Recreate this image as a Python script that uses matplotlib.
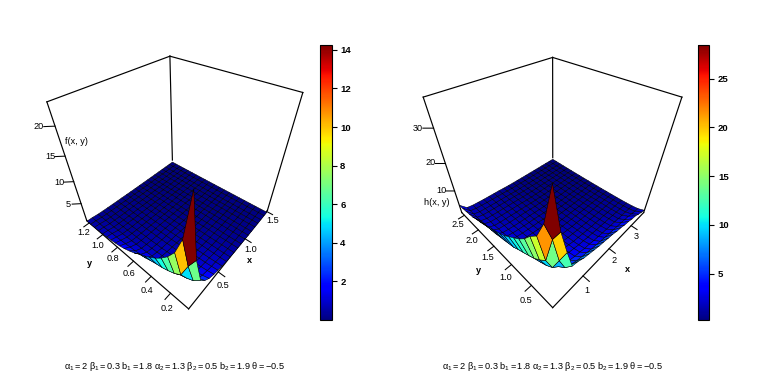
"""Two perspective surface plots with colour bars, drawn on mplot3d axes."""

import matplotlib

matplotlib.use("Agg")
matplotlib.rcParams["font.family"] = ["Liberation Sans", "DejaVu Sans"]
matplotlib.rcParams["mathtext.fontset"] = "custom"
matplotlib.rcParams["mathtext.rm"] = "Liberation Sans"
matplotlib.rcParams["mathtext.it"] = "Liberation Sans"

import matplotlib.pyplot as plt  # noqa: E402
import numpy as np  # noqa: E402
from matplotlib.cm import ScalarMappable  # noqa: E402
from matplotlib.colors import Normalize  # noqa: E402

WIDTH, HEIGHT = 765, 377

x_left = [0.05, 0.12, 0.20, 0.27, 0.34, 0.42, 0.49, 0.56, 0.64, 0.71, 0.785,
          0.86, 0.93, 1.01, 1.08, 1.15, 1.23, 1.30, 1.37, 1.45, 1.52]
y_left = [0.03, 0.09, 0.15, 0.21, 0.27, 0.33, 0.39, 0.45, 0.51, 0.57, 0.635,
          0.70, 0.76, 0.82, 0.88, 0.94, 1.00, 1.06, 1.12, 1.18, 1.24]
x_right = [0.03, 0.21, 0.39, 0.57, 0.75, 0.94, 1.12, 1.30, 1.48, 1.66, 1.84,
           2.02, 2.20, 2.38, 2.56, 2.75, 2.93, 3.11, 3.29, 3.47, 3.65]
y_right = [0.03, 0.16, 0.29, 0.42, 0.54, 0.67, 0.80, 0.93, 1.06, 1.19, 1.32,
           1.44, 1.57, 1.70, 1.83, 1.96, 2.09, 2.22, 2.34, 2.47, 2.60]

# rows run along x, columns along y
z_left = [
    [23, 15, 11.5, 9.5, 8, 6.8, 5.8, 5, 4.3, 3.4, 2.7, 2.1, 1.7, 1.4, 1.15, 0.95, 0.75, 0.65, 0.6, 0.5, 0.45],
    [11, 8.5, 5.2, 4.2, 3.6, 3.1, 2.8, 2.4, 1.95, 1.7, 1.4, 1.25, 1.05, 0.95, 0.8, 0.75, 0.62, 0.56, 0.5, 0.45, 0.4],
    [4.8, 3.3, 2.6, 2.1, 1.8, 1.55, 1.35, 1.2, 0.95, 0.85, 0.7, 0.64, 0.55, 0.5, 0.43, 0.4, 0.35, 0.32, 0.3, 0.28, 0.26],
    [3.2, 2.3, 1.8, 1.5, 1.3, 1.15, 1.0, 0.9, 0.75, 0.68, 0.56, 0.5, 0.43, 0.39, 0.33, 0.31, 0.27, 0.25, 0.23, 0.21, 0.2],
    [2.2, 1.7, 1.35, 1.15, 1.0, 0.9, 0.82, 0.74, 0.6, 0.55, 0.46, 0.42, 0.36, 0.33, 0.28, 0.26, 0.22, 0.21, 0.19, 0.18, 0.17],
    [1.6, 1.3, 1.1, 0.95, 0.85, 0.77, 0.7, 0.63, 0.52, 0.47, 0.39, 0.36, 0.31, 0.28, 0.24, 0.22, 0.19, 0.17, 0.16, 0.15, 0.14],
    [1.25, 1.05, 0.92, 0.82, 0.74, 0.67, 0.61, 0.55, 0.46, 0.42, 0.35, 0.32, 0.27, 0.25, 0.21, 0.2, 0.17, 0.16, 0.15, 0.13, 0.12],
    [1.0, 0.9, 0.8, 0.72, 0.66, 0.6, 0.55, 0.5, 0.42, 0.38, 0.32, 0.29, 0.24, 0.22, 0.19, 0.18, 0.15, 0.14, 0.13, 0.12, 0.11],
    [0.72, 0.63, 0.58, 0.53, 0.49, 0.44, 0.4, 0.37, 0.31, 0.28, 0.23, 0.21, 0.18, 0.16, 0.14, 0.13, 0.11, 0.1, 0.09, 0.085, 0.08],
    [0.62, 0.54, 0.49, 0.45, 0.41, 0.38, 0.34, 0.31, 0.26, 0.24, 0.2, 0.18, 0.15, 0.14, 0.12, 0.11, 0.09, 0.085, 0.08, 0.07, 0.065],
    [0.47, 0.41, 0.37, 0.34, 0.31, 0.29, 0.26, 0.24, 0.2, 0.18, 0.15, 0.14, 0.12, 0.11, 0.09, 0.085, 0.07, 0.065, 0.06, 0.055, 0.05],
    [0.41, 0.36, 0.33, 0.3, 0.27, 0.25, 0.23, 0.21, 0.18, 0.16, 0.13, 0.12, 0.1, 0.095, 0.08, 0.075, 0.065, 0.06, 0.055, 0.05, 0.045],
    [0.32, 0.27, 0.25, 0.23, 0.21, 0.19, 0.18, 0.16, 0.13, 0.12, 0.1, 0.095, 0.08, 0.075, 0.06, 0.055, 0.05, 0.045, 0.04, 0.04, 0.035],
    [0.28, 0.24, 0.22, 0.2, 0.18, 0.17, 0.15, 0.14, 0.12, 0.11, 0.09, 0.085, 0.07, 0.065, 0.055, 0.05, 0.04, 0.04, 0.035, 0.035, 0.03],
    [0.22, 0.19, 0.17, 0.16, 0.14, 0.13, 0.12, 0.11, 0.09, 0.085, 0.07, 0.065, 0.055, 0.05, 0.04, 0.04, 0.035, 0.03, 0.03, 0.03, 0.025],
    [0.2, 0.17, 0.15, 0.14, 0.13, 0.12, 0.11, 0.1, 0.08, 0.075, 0.06, 0.055, 0.05, 0.045, 0.04, 0.035, 0.03, 0.03, 0.025, 0.025, 0.02],
    [0.16, 0.14, 0.12, 0.11, 0.1, 0.09, 0.085, 0.08, 0.065, 0.06, 0.05, 0.045, 0.04, 0.035, 0.03, 0.03, 0.025, 0.02, 0.02, 0.02, 0.02],
    [0.14, 0.12, 0.11, 0.1, 0.09, 0.085, 0.08, 0.07, 0.06, 0.05, 0.045, 0.04, 0.035, 0.03, 0.025, 0.025, 0.02, 0.02, 0.02, 0.02, 0.02],
    [0.13, 0.11, 0.1, 0.09, 0.08, 0.075, 0.07, 0.065, 0.05, 0.05, 0.04, 0.035, 0.03, 0.03, 0.025, 0.02, 0.02, 0.02, 0.02, 0.02, 0.02],
    [0.12, 0.1, 0.09, 0.08, 0.07, 0.065, 0.06, 0.055, 0.045, 0.04, 0.035, 0.03, 0.03, 0.025, 0.02, 0.02, 0.02, 0.02, 0.02, 0.02, 0.02],
    [0.11, 0.09, 0.08, 0.07, 0.065, 0.06, 0.055, 0.05, 0.04, 0.04, 0.03, 0.03, 0.025, 0.02, 0.02, 0.02, 0.02, 0.02, 0.02, 0.02, 0.02],
]

z_right = [
    [38, 28, 23, 21, 18.5, 16.5, 15, 13.5, 12, 11, 10, 9.5, 8.5, 7.8, 6.8, 6.2, 5.4, 5, 4.7, 4.4, 4.2],
    [26, 22, 13, 11, 9.5, 8.5, 7.5, 6.6, 5.5, 5, 4.4, 4, 3.4, 3.1, 2.7, 2.5, 2.1, 2, 1.9, 1.8, 1.7],
    [18, 13, 8, 6.5, 5.6, 5, 4.5, 4.1, 3.4, 3.1, 2.7, 2.5, 2.2, 2, 1.8, 1.7, 1.5, 1.45, 1.4, 1.35, 1.3],
    [11, 8, 6, 5, 4.4, 4, 3.6, 3.3, 2.8, 2.6, 2.2, 2.1, 1.85, 1.75, 1.55, 1.5, 1.35, 1.3, 1.25, 1.2, 1.15],
    [10.5, 6.8, 4.8, 4.1, 3.7, 3.3, 3, 2.8, 2.4, 2.2, 1.9, 1.8, 1.6, 1.5, 1.4, 1.3, 1.2, 1.15, 1.1, 1.05, 1],
    [9.5, 6, 4.1, 3.5, 3.1, 2.8, 2.6, 2.4, 2.05, 1.9, 1.7, 1.6, 1.4, 1.35, 1.25, 1.2, 1.1, 1.05, 1, 0.95, 0.92],
    [9, 5.5, 3.6, 3.1, 2.8, 2.5, 2.3, 2.1, 1.8, 1.7, 1.5, 1.4, 1.3, 1.2, 1.1, 1.05, 0.97, 0.93, 0.9, 0.87, 0.84],
    [8.5, 5.1, 3.3, 2.8, 2.5, 2.25, 2.05, 1.9, 1.65, 1.55, 1.35, 1.3, 1.16, 1.1, 1, 0.96, 0.88, 0.85, 0.82, 0.79, 0.76],
    [8, 4.6, 2.85, 2.35, 2.05, 1.85, 1.7, 1.56, 1.35, 1.27, 1.13, 1.07, 0.97, 0.92, 0.84, 0.8, 0.74, 0.71, 0.69, 0.66, 0.64],
    [7.7, 4.4, 2.7, 2.2, 1.9, 1.7, 1.55, 1.42, 1.2, 1.1, 0.95, 0.9, 0.8, 0.76, 0.69, 0.66, 0.6, 0.58, 0.56, 0.54, 0.52],
    [7.3, 4, 2.35, 1.92, 1.67, 1.5, 1.35, 1.23, 1.03, 0.96, 0.83, 0.78, 0.7, 0.67, 0.61, 0.58, 0.54, 0.52, 0.5, 0.48, 0.46],
    [7, 3.8, 2.2, 1.8, 1.57, 1.4, 1.26, 1.15, 0.97, 0.9, 0.78, 0.74, 0.66, 0.63, 0.57, 0.55, 0.51, 0.49, 0.47, 0.45, 0.44],
    [6.4, 3.5, 1.95, 1.6, 1.4, 1.25, 1.12, 1.02, 0.86, 0.8, 0.7, 0.66, 0.59, 0.56, 0.52, 0.5, 0.46, 0.44, 0.43, 0.41, 0.4],
    [6.1, 3.35, 1.85, 1.52, 1.32, 1.18, 1.06, 0.97, 0.82, 0.76, 0.67, 0.63, 0.56, 0.54, 0.49, 0.47, 0.44, 0.42, 0.41, 0.39, 0.38],
    [5.5, 3.05, 1.65, 1.37, 1.19, 1.06, 0.96, 0.88, 0.75, 0.69, 0.61, 0.57, 0.52, 0.49, 0.45, 0.44, 0.41, 0.39, 0.38, 0.37, 0.36],
    [5.2, 2.9, 1.55, 1.3, 1.13, 1.01, 0.92, 0.84, 0.71, 0.66, 0.58, 0.55, 0.5, 0.47, 0.44, 0.42, 0.39, 0.38, 0.36, 0.35, 0.34],
    [4.6, 2.6, 1.37, 1.16, 1.02, 0.92, 0.83, 0.76, 0.65, 0.61, 0.54, 0.51, 0.46, 0.44, 0.41, 0.39, 0.36, 0.35, 0.34, 0.33, 0.32],
    [4.3, 2.45, 1.27, 1.08, 0.96, 0.87, 0.79, 0.73, 0.62, 0.58, 0.52, 0.49, 0.44, 0.42, 0.39, 0.38, 0.35, 0.34, 0.33, 0.32, 0.31],
    [3.4, 1.9, 1.17, 1.0, 0.89, 0.81, 0.74, 0.68, 0.59, 0.55, 0.49, 0.47, 0.42, 0.41, 0.38, 0.36, 0.34, 0.33, 0.32, 0.31, 0.3],
    [2.7, 1.55, 1.05, 0.9, 0.8, 0.73, 0.67, 0.62, 0.54, 0.51, 0.46, 0.44, 0.4, 0.38, 0.35, 0.34, 0.32, 0.31, 0.3, 0.29, 0.28],
    [2, 1.2, 0.9, 0.75, 0.65, 0.58, 0.52, 0.48, 0.41, 0.38, 0.34, 0.32, 0.29, 0.28, 0.26, 0.25, 0.25, 0.25, 0.25, 0.25, 0.25],
]

x_ticks_left = [0.5, 1.0, 1.5]
y_ticks_left = [0.2, 0.4, 0.6, 0.8, 1.0, 1.2]
z_ticks_left = [5, 10, 15, 20]
bar_ticks_left = [2, 4, 6, 8, 10, 12, 14]

x_ticks_right = [1, 2, 3]
y_ticks_right = [0.5, 1.0, 1.5, 2.0, 2.5]
z_ticks_right = [10, 20, 30]
bar_ticks_right = [5, 10, 15, 20, 25]

PARAM_TEXT = (r"$\alpha_1=2\ \beta_1=0.3\ b_1=1.8\ \alpha_2=1.3\ \beta_2=0.5\ "
              r"b_2=1.9\ \theta=-0.5$")

# box corners as pixels: bottom front, left, right, back, then top left, right, back
CORNERS_LEFT = [(189.3, 309.3), (86, 220), (267.3, 210), (172.7, 160.7),
                (47.3, 102.3), (302.3, 92.7), (170, 55.7)]
CORNERS_RIGHT = [(552.7, 309.3), (460.5, 210.5), (645, 210.5), (552.7, 160),
                 (425, 98.3), (680, 98.3), (552.7, 55.7)]
UNIT_CORNERS = [(0, 0, 0), (0, 1, 0), (1, 0, 0), (1, 1, 0), (0, 1, 1), (1, 0, 1), (1, 1, 1)]


def fit_projection(ax, corners, xlim, ylim, zlim):
    """Camera matrix taking data coordinates to the 2D limits of a full-figure axes."""
    x0, x1 = ax.viewLim.intervalx
    y0, y1 = ax.viewLim.intervaly
    rows = []
    for (px, py), (a, b, c) in zip(corners, UNIT_CORNERS):
        u = x0 + px / WIDTH * (x1 - x0)
        v = y0 + (1 - py / HEIGHT) * (y1 - y0)
        rows.append([a, b, c, 1, 0, 0, 0, 0, -u * a, -u * b, -u * c, -u])
        rows.append([0, 0, 0, 0, a, b, c, 1, -v * a, -v * b, -v * c, -v])
    cam = np.linalg.svd(np.array(rows))[2][-1].reshape(3, 4)
    if (cam[2] @ [0.5, 0.5, 0.5, 1]) < 0:
        cam = -cam
    w_min = min(cam[2] @ [a, b, c, 1] for a, b, c in UNIT_CORNERS)
    depth = cam[2] - np.array([0, 0, 0, 0.5 * w_min])
    unit = np.diag([1 / (xlim[1] - xlim[0]), 1 / (ylim[1] - ylim[0]), 1 / (zlim[1] - zlim[0]), 1.0])
    unit[:3, 3] = [-xlim[0] * unit[0, 0], -ylim[0] * unit[1, 1], -zlim[0] * unit[2, 2]]
    return np.vstack([cam[0], cam[1], depth, cam[2]]) @ unit


def draw_panel(fig, corners, x, y, z, zlim, vlim, ticks, x_fmt):
    x_ticks, y_ticks, z_ticks = ticks
    xlim, ylim = (x[0], x[-1]), (y[0], y[-1])
    ax = fig.add_axes([0, 0, 1, 1], projection="3d")
    ax.set_axis_off()
    ax.patch.set_visible(False)
    ax.apply_aspect = lambda position=None: None
    ax.set_proj_type("ortho")  # the matrix below has its own perspective; this only stops line clipping
    proj = fit_projection(ax, corners, xlim, ylim, zlim)
    ax.get_proj = lambda: proj
    ax.computed_zorder = False

    x_span, y_span = xlim[1] - xlim[0], ylim[1] - ylim[0]
    lo, hi = zlim
    box_edges = [
        ((xlim[0], ylim[0], lo), (xlim[1], ylim[0], lo)),
        ((xlim[0], ylim[0], lo), (xlim[0], ylim[1], lo)),
        ((xlim[0], ylim[1], lo), (xlim[0], ylim[1], hi)),
        ((xlim[1], ylim[0], lo), (xlim[1], ylim[0], hi)),
        ((xlim[1], ylim[1], lo), (xlim[1], ylim[1], hi)),
        ((xlim[0], ylim[1], hi), (xlim[1], ylim[1], hi)),
        ((xlim[1], ylim[0], hi), (xlim[1], ylim[1], hi)),
    ]
    for start, end in box_edges:
        ax.plot(*zip(start, end), color="black", lw=0.85, zorder=1)

    xx, yy = np.meshgrid(x, y, indexing="ij")
    zz = np.array(z)
    facets = (zz[:-1, :-1] + zz[1:, :-1] + zz[:-1, 1:] + zz[1:, 1:]) / 4
    colours = plt.get_cmap("jet")(Normalize(*vlim)(facets))
    ax.plot_surface(xx, yy, zz, rstride=1, cstride=1, facecolors=colours, shade=False,
                    edgecolor="black", linewidth=0.38, antialiased=True, zorder=2)

    tick_kw = dict(color="black", lw=0.75, zorder=3)
    text_kw = dict(fontsize=6.6, ha="center", va="center", zorder=4)
    for t in x_ticks:
        ax.plot([t, t], [ylim[0], ylim[0] - 0.05 * y_span], [lo, lo], **tick_kw)
        ax.text(t - 0.055 * x_span, ylim[0] - 0.075 * y_span, lo, format(t, x_fmt), **text_kw)
    for t in y_ticks:
        ax.plot([xlim[0], xlim[0] - 0.05 * x_span], [t, t], [lo, lo], **tick_kw)
        ax.text(xlim[0] - 0.08 * x_span, t - 0.045 * y_span, lo, f"{t:.1f}", **text_kw)
    for t in z_ticks:
        ax.plot([xlim[0], xlim[0] - 0.045 * x_span], [ylim[1], ylim[1] + 0.045 * y_span], [t, t], **tick_kw)
        ax.text(xlim[0] - 0.065 * x_span, ylim[1] + 0.065 * y_span, t, str(t), **text_kw)
    return ax


def add_bar(fig, left, vlim, ticks):
    cax = fig.add_axes([left / WIDTH, 1 - 320 / HEIGHT, 11.7 / WIDTH, 275 / HEIGHT])
    bar = fig.colorbar(ScalarMappable(Normalize(*vlim), "jet"), cax=cax, ticks=ticks)
    bar.outline.set_linewidth(0.8)
    cax.tick_params(length=3.6, width=0.8, labelsize=6.8, pad=2.5)
    for label in cax.get_yticklabels():
        label.set_fontweight("bold")


def main():
    fig = plt.figure(figsize=(WIDTH / 100, HEIGHT / 100), dpi=100)

    draw_panel(fig, CORNERS_LEFT, x_left, y_left, z_left, (0.6, 23.5), (0.0, 14.25),
               (x_ticks_left, y_ticks_left, z_ticks_left), ".1f")
    draw_panel(fig, CORNERS_RIGHT, x_right, y_right, z_right, (1.0, 37.5), (0.25, 28.46),
               (x_ticks_right, y_ticks_right, z_ticks_right), "d")
    add_bar(fig, 320, (0.0, 14.25), bar_ticks_left)
    add_bar(fig, 697.7, (0.25, 28.46), bar_ticks_right)

    fig.text(76.7 / WIDTH, 1 - 141 / HEIGHT, "f(x, y)", fontsize=6.6, ha="center", va="center")
    fig.text(436.7 / WIDTH, 1 - 202.7 / HEIGHT, "h(x, y)", fontsize=6.6, ha="center", va="center")
    for px, py, name in [(249.7, 260.7, "x"), (89.3, 263.3, "y"), (627.7, 269.3, "x"), (478.3, 270.7, "y")]:
        fig.text(px / WIDTH, 1 - py / HEIGHT, name, fontsize=6.6, fontweight="bold", ha="center", va="center")
    fig.text(174.5 / WIDTH, 1 - 366.5 / HEIGHT, PARAM_TEXT, fontsize=6.6, ha="center", va="center")
    fig.text(552.5 / WIDTH, 1 - 366.5 / HEIGHT, PARAM_TEXT, fontsize=6.6, ha="center", va="center")

    fig.savefig("out.png", dpi=100)
    plt.close(fig)


if __name__ == "__main__":
    main()
